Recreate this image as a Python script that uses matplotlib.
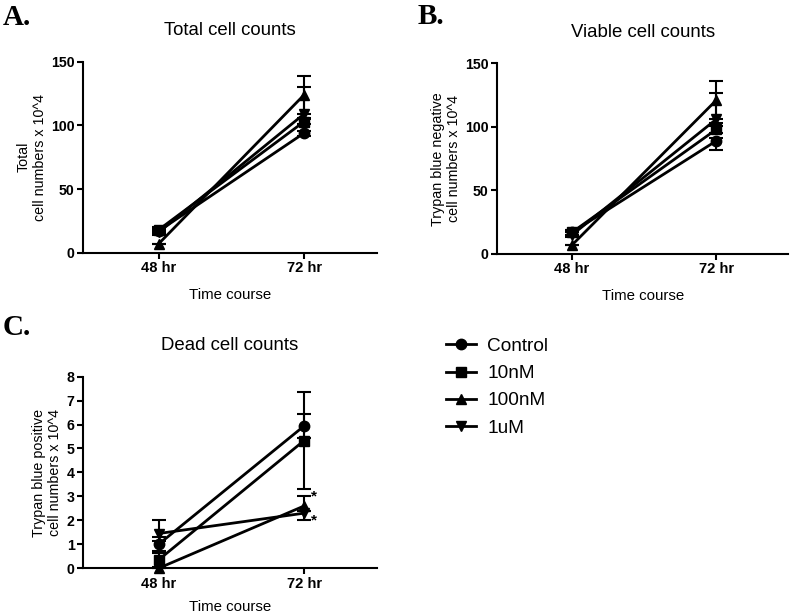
import matplotlib
matplotlib.use("Agg")
import matplotlib.pyplot as plt
from matplotlib.lines import Line2D
import numpy as np

plt.rcParams["font.family"] = ["Liberation Sans", "DejaVu Sans"]

# values (mean, lower err, upper err), rows follow GROUPS
TIMES = ["48 hr", "72 hr"]
GROUPS = ["Control", "10nM", "100nM", "1uM"]
MARKERS = ["o", "s", "^", "v"]

TOTAL_MEAN = [[17, 94], [18, 103], [7, 124], [16, 109]]
TOTAL_LO = [[2, 2], [2, 2], [0, 15], [2, 3]]
TOTAL_HI = [[2, 2], [2, 2], [0, 15], [2, 21]]

VIABLE_MEAN = [[17, 89], [17, 98], [7, 121], [15, 106]]
VIABLE_LO = [[2, 7], [2, 3], [0, 15], [2, 3]]
VIABLE_HI = [[2, 2], [2, 3], [0, 15], [2, 21]]

DEAD_MEAN = [[1.0, 5.94], [0.35, 5.33], [0.0, 2.6], [1.45, 2.3]]
DEAD_LO = [[0.3, 0.5], [0.3, 2.03], [0.0, 0.2], [0.3, 0.3]]
DEAD_HI = [[0.3, 0.5], [0.3, 2.03], [0.0, 0.4], [0.55, 0.1]]

# groups flagged with * at 72 hr in the dead-cell panel
STARRED = ["100nM", "1uM"]


def draw_panel(ax, means, lo, hi, yticks, title, ylabel, xpad=9):
    x = np.arange(len(TIMES))
    for g, m, mean, l, h in zip(GROUPS, MARKERS, means, lo, hi):
        ax.errorbar(x, mean, yerr=[l, h], fmt="none", ecolor="black",
                    elinewidth=1.5, capsize=5, capthick=1.5, zorder=2,
                    clip_on=False)
        ax.plot(x, mean, color="black", marker=m, ms=7.5, lw=2,
                label=g, zorder=3, clip_on=False)

    ax.set_xlim(-0.52, 1.5)
    ax.set_ylim(yticks[0], yticks[-1])
    ax.set_xticks(x)
    ax.set_xticklabels(TIMES, fontweight="bold", fontsize=10.6)
    ax.set_yticks(yticks)
    ax.set_yticklabels([str(t) for t in yticks], fontweight="bold", fontsize=10.2)
    ax.tick_params(width=1.5, length=4, pad=2)
    for side in ("top", "right"):
        ax.spines[side].set_visible(False)
    for side in ("left", "bottom"):
        ax.spines[side].set_linewidth(1.5)
    ax.set_title(title, fontsize=13.4, pad=19)
    ax.set_ylabel(ylabel, fontsize=10.3, labelpad=3)
    ax.set_xlabel("Time course", fontsize=10.8, labelpad=xpad)


fig = plt.figure(figsize=(7.9, 6.15), dpi=100)
axA = fig.add_axes([0.105, 0.589, 0.372, 0.3106])
axB = fig.add_axes([0.629, 0.587, 0.369, 0.310])
axC = fig.add_axes([0.105, 0.076, 0.372, 0.3116])

draw_panel(axA, TOTAL_MEAN, TOTAL_LO, TOTAL_HI, [0, 50, 100, 150],
           "Total cell counts", "Total\ncell numbers x 10^4")
draw_panel(axB, VIABLE_MEAN, VIABLE_LO, VIABLE_HI, [0, 50, 100, 150],
           "Viable cell counts", "Trypan blue negative\ncell numbers x 10^4")
draw_panel(axC, DEAD_MEAN, DEAD_LO, DEAD_HI, list(range(0, 9)),
           "Dead cell counts", "Trypan blue positive\ncell numbers x 10^4", xpad=7)

# significance stars next to the 72 hr error bar ends
for g in STARRED:
    i = GROUPS.index(g)
    if g == "100nM":
        y = DEAD_MEAN[i][1] + DEAD_HI[i][1]
    else:
        y = DEAD_MEAN[i][1] - DEAD_LO[i][1]
    axC.text(1.07, y, "*", fontsize=11, fontweight="bold", ha="center", va="center")

for lbl, (x, y) in zip(["A.", "B.", "C."], [(0.003, 25), (0.529, 24), (0.003, 335)]):
    fig.text(x, 1 - y / 615, lbl, fontsize=21, fontweight="bold",
             family="Liberation Serif", va="baseline")

handles = [Line2D([], [], color="black", marker=m, ms=7.5, lw=2) for m in MARKERS]
fig.legend(handles, GROUPS, loc="upper left", bbox_to_anchor=(0.564, 0.451),
           frameon=False, fontsize=13.7, handlelength=1.6, handletextpad=0.6,
           labelspacing=0.52, borderpad=0, borderaxespad=0)

fig.savefig("out.png", dpi=100)
